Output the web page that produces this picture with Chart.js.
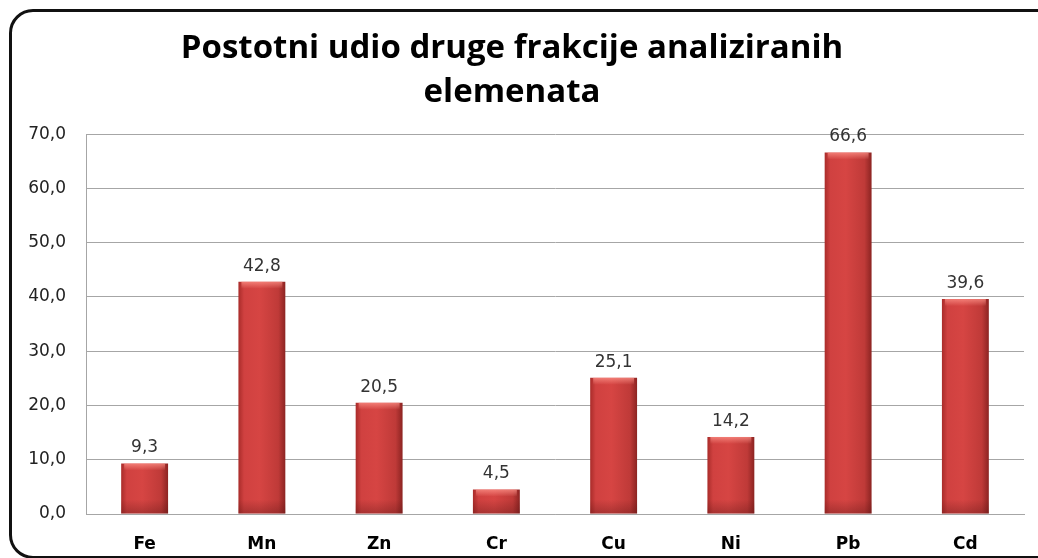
<!DOCTYPE html>
<html>
<head>
<meta charset="utf-8">
<script src="https://cdn.jsdelivr.net/npm/chart.js@4"></script>
<style>
  html, body { margin: 0; padding: 0; background: #fff; }
  #wrap { position: relative; width: 1038px; height: 558px; overflow: hidden; }
  #frame {
    position: absolute; left: 9px; top: 9px; width: 1060px; height: 544px;
    border: 3px solid #111; border-radius: 24px; pointer-events: none;
  }
</style>
</head>
<body>
<div id="wrap">
  <canvas id="chart" width="1038" height="558"></canvas>
  <div id="frame"></div>
</div>
<script>
// data
const elements = ["Fe", "Mn", "Zn", "Cr", "Cu", "Ni", "Pb", "Cd"];
const shares = [9.3, 42.8, 20.5, 4.5, 25.1, 14.2, 66.6, 39.6];
const titleLines = ["Postotni udio druge frakcije analiziranih", "elemenata"];

const fmt = (v) => v.toFixed(1).replace(".", ",");

// horizontal gradient per bar, like the Excel bevel fill
function barFill(ctx) {
  const chart = ctx.chart;
  if (!chart.chartArea) return "#c93b39";
  const x = chart.scales.x;
  const w = (x.width / elements.length) * 0.4;
  const cx = x.getPixelForValue(ctx.dataIndex);
  const g = chart.ctx.createLinearGradient(cx - w / 2, 0, cx + w / 2, 0);
  g.addColorStop(0, "#a92c2a");
  g.addColorStop(0.12, "#d04140");
  g.addColorStop(0.45, "#d64543");
  g.addColorStop(0.85, "#bf3a38");
  g.addColorStop(1, "#8c2422");
  return g;
}

const valueLabels = {
  id: "valueLabels",
  afterDatasetsDraw(chart) {
    const ctx = chart.ctx;
    const meta = chart.getDatasetMeta(0);
    ctx.save();
    meta.data.forEach((bar, i) => {
      // light bevel on top edge
      const half = bar.width / 2;
      const tg = ctx.createLinearGradient(0, bar.y, 0, bar.y + 7);
      tg.addColorStop(0, "rgba(255,150,140,0.7)");
      tg.addColorStop(1, "rgba(255,150,140,0)");
      ctx.fillStyle = tg;
      ctx.fillRect(bar.x - half + 3, bar.y, bar.width - 6, 7);
      // darker bottom
      const h = Math.min(14, bar.base - bar.y);
      const bg = ctx.createLinearGradient(0, bar.base - h, 0, bar.base);
      bg.addColorStop(0, "rgba(90,20,20,0)");
      bg.addColorStop(1, "rgba(90,20,20,0.35)");
      ctx.fillStyle = bg;
      ctx.fillRect(bar.x - half, bar.base - h, bar.width, h);

      ctx.fillStyle = "#333";
      ctx.font = "17px 'DejaVu Sans'";
      ctx.textAlign = "center";
      ctx.textBaseline = "bottom";
      ctx.fillText(fmt(shares[i]), bar.x, bar.y - 7);
    });
    ctx.restore();
  },
};

new Chart(document.getElementById("chart"), {
  type: "bar",
  data: {
    labels: elements,
    datasets: [
      {
        data: shares,
        backgroundColor: barFill,
        borderWidth: 0,
        barPercentage: 0.4,
        categoryPercentage: 1,
      },
    ],
  },
  options: {
    responsive: false,
    animation: false,
    layout: { padding: { top: 26, right: 14, bottom: 0, left: 0 } },
    plugins: {
      legend: { display: false },
      tooltip: { enabled: false },
      title: {
        display: true,
        text: titleLines,
        color: "#000",
        font: { family: "'Open Sans'", size: 33, weight: "bold", lineHeight: 1.35 },
        padding: { top: 0, bottom: 19 },
      },
    },
    scales: {
      x: {
        afterFit(scale) {
          scale.height = 44;
        },
        grid: { display: false },
        border: { display: true, color: "#a6a6a6" },
        ticks: {
          color: "#000",
          font: { family: "'DejaVu Sans'", size: 17, weight: "bold" },
          padding: 12,
        },
      },
      y: {
        min: 0,
        max: 70,
        afterFit(scale) {
          scale.width = 86;
        },
        grid: { color: "#a6a6a6", drawTicks: false },
        border: { display: true, color: "#a6a6a6" },
        ticks: {
          stepSize: 10,
          color: "#222",
          padding: 20,
          font: { family: "'DejaVu Sans'", size: 17 },
          callback: (v) => fmt(v),
        },
      },
    },
  },
  plugins: [valueLabels],
});
</script>
</body>
</html>
